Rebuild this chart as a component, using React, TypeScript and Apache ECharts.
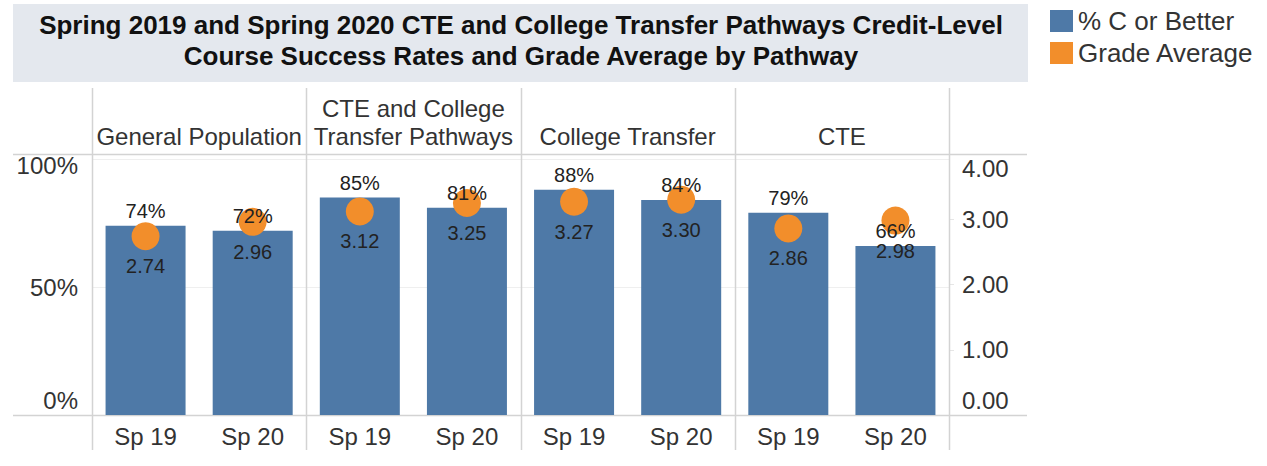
import React, { useEffect, useRef } from "react";
import * as echarts from "echarts";

const titleLines = [
  "Spring 2019 and Spring 2020 CTE and College Transfer Pathways Credit-Level",
  "Course Success Rates and Grade Average by Pathway",
];
const pathways = ["General Population", "CTE and College\nTransfer Pathways", "College Transfer", "CTE"];
const terms = ["Sp 19", "Sp 20", "Sp 19", "Sp 20", "Sp 19", "Sp 20", "Sp 19", "Sp 20"];
const pctCOrBetter = [74, 72, 85, 81, 88, 84, 79, 66];
const gradeAverage = [2.74, 2.96, 3.12, 3.25, 3.27, 3.3, 2.86, 2.98];
const leftTicks = [0, 50, 100];
const rightTicks = [0, 1, 2, 3, 4];

const FONT = "'Liberation Sans', Arial, sans-serif";
const BLUE = "#4e79a7";
const ORANGE = "#f28e2b";
const LINE = "#d3d3d3";

export default function App() {
  const ref = useRef<HTMLDivElement>(null);
  useEffect(() => {
    document.body.style.margin = "0";
    const chart = echarts.init(ref.current!, null, { renderer: "svg" });
    const gridL = 92, gridR = 949, gridT = 154, gridB = 415;
    const panelW = (gridR - gridL) / pathways.length;
    const vLines: any[] = [];
    for (let i = 0; i <= pathways.length; i++) {
      const x = Math.round(gridL + i * panelW) + 0.5;
      vLines.push({ type: "line", shape: { x1: x, y1: 88, x2: x, y2: 450 }, style: { stroke: LINE, lineWidth: 1.5 }, z: 1 });
    }
    chart.setOption({
      animation: false,
      textStyle: { fontFamily: FONT },
      grid: { left: gridL, right: 1267 - gridR, top: gridT, bottom: 466 - gridB, containLabel: false },
      legend: {
        orient: "vertical",
        left: 1045,
        top: 3,
        itemWidth: 23,
        itemHeight: 22,
        itemGap: 6,
        textStyle: { fontSize: 26, color: "#333", fontFamily: FONT, padding: [0, 0, 0, 0] },
        data: [
          { name: "% C or Better", icon: "rect" },
          { name: "Grade Average", icon: "rect" },
        ],
      },
      graphic: [
        { type: "rect", shape: { x: 13, y: 4, width: 1015, height: 78 }, style: { fill: "#e4e8ee" }, z: 0 },
        {
          type: "text",
          x: 521,
          y: 40,
          style: {
            text: titleLines.join("\n"),
            align: "center",
            verticalAlign: "middle",
            fontSize: 26,
            fontWeight: "bold",
            lineHeight: 31,
            fontFamily: FONT,
            fill: "#111",
          },
          z: 1,
        },
        { type: "line", shape: { x1: 13, y1: gridT + 0.5, x2: 1027, y2: gridT + 0.5 }, style: { stroke: LINE, lineWidth: 1.5 }, z: 1 },
        { type: "line", shape: { x1: 13, y1: gridB + 0.5, x2: 1027, y2: gridB + 0.5 }, style: { stroke: LINE, lineWidth: 1.5 }, z: 1 },
        ...vLines,
      ],
      xAxis: [
        {
          type: "category",
          data: terms,
          position: "bottom",
          axisLine: { show: false },
          axisTick: { show: false },
          axisLabel: { fontSize: 24, color: "#333", margin: 9, interval: 0, fontFamily: FONT },
        },
        {
          type: "category",
          data: pathways,
          position: "top",
          axisLine: { show: false },
          axisTick: { show: false },
          axisLabel: { fontSize: 24, color: "#333", margin: 4, interval: 0, lineHeight: 28, verticalAlign: "bottom", fontFamily: FONT },
        },
      ],
      yAxis: [
        {
          type: "value",
          min: 0,
          max: 102,
          interval: 50,
          axisLine: { show: false },
          axisTick: { show: false },
          splitLine: { show: true, lineStyle: { color: "#efefef", width: 1 } },
          axisLabel: {
            fontSize: 24,
            color: "#333",
            margin: 14,
            fontFamily: FONT,
            formatter: (v: number) => {
              if (!leftTicks.includes(v)) return "";
              if (v === 0) return "{b|0%}";
              if (v === 100) return "{t|100%}";
              return v + "%";
            },
            rich: {
              b: { fontSize: 24, color: "#333", fontFamily: FONT, padding: [0, 0, 30, 0] },
              t: { fontSize: 24, color: "#333", fontFamily: FONT, padding: [12, 0, 0, 0] },
            },
          },
        },
        {
          type: "value",
          min: 0,
          max: 4,
          interval: 1,
          position: "right",
          axisLine: { show: false },
          axisTick: { show: true, length: 5, lineStyle: { color: "#e6e6e6" } },
          splitLine: { show: false },
          axisLabel: {
            fontSize: 24,
            color: "#333",
            margin: 13,
            fontFamily: FONT,
            formatter: (v: number) => {
              if (!rightTicks.includes(v)) return "";
              const s = v.toFixed(2);
              if (v === 0) return "{b|" + s + "}";
              if (v === 4) return "{t|" + s + "}";
              return s;
            },
            rich: {
              b: { fontSize: 24, color: "#333", fontFamily: FONT, padding: [0, 0, 30, 0] },
              t: { fontSize: 24, color: "#333", fontFamily: FONT, padding: [28, 0, 0, 0] },
            },
          },
        },
      ],
      series: [
        {
          name: "% C or Better",
          type: "bar",
          data: pctCOrBetter,
          barWidth: 80,
          itemStyle: { color: BLUE },
          z: 2,
        },
        {
          name: "Grade Average",
          type: "scatter",
          yAxisIndex: 1,
          data: gradeAverage,
          symbolSize: 28,
          itemStyle: { color: ORANGE, opacity: 1 },
          label: {
            show: true,
            position: "bottom",
            distance: 6,
            fontSize: 20,
            color: "#222",
            fontFamily: FONT,
            formatter: (p: any) => Number(p.value).toFixed(2),
          },
          z: 3,
        },
        {
          name: "pctLabels",
          type: "scatter",
          data: pctCOrBetter,
          symbolSize: 2,
          silent: true,
          itemStyle: { color: BLUE, opacity: 0 },
          label: {
            show: true,
            position: "top",
            distance: 4,
            fontSize: 20,
            color: "#222",
            opacity: 1,
            fontFamily: FONT,
            formatter: (p: any) => p.value + "%",
          },
          z: 10,
        },
      ],
    });
    return () => chart.dispose();
  }, []);
  return <div ref={ref} style={{ width: 1267, height: 466 }} />;
}
